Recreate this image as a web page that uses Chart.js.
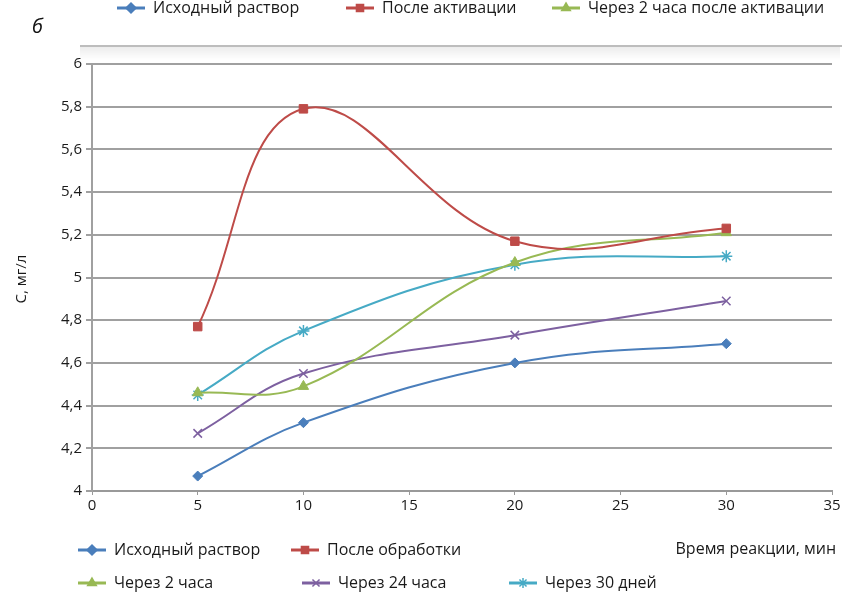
<!DOCTYPE html>
<html>
<head>
<meta charset="utf-8">
<script src="https://cdn.jsdelivr.net/npm/chart.js@4/dist/chart.umd.min.js"></script>
<style>
  html, body { margin: 0; padding: 0; background: #fff; }
  #wrap { position: relative; width: 853px; height: 597px; }
</style>
</head>
<body>
<div id="wrap"><canvas id="chart" width="853" height="597"></canvas></div>
<script>
// data
const times = [5, 10, 20, 30];
const ishodny = [4.07, 4.32, 4.60, 4.69];
const posleObrabotki = [4.77, 5.79, 5.17, 5.23];
const cherez2 = [4.46, 4.49, 5.07, 5.21];
const cherez24 = [4.27, 4.55, 4.73, 4.89];
const cherez30 = [4.45, 4.75, 5.06, 5.10];

const seriesNames = ['Исходный раствор', 'После обработки', 'Через 2 часа', 'Через 24 часа', 'Через 30 дней'];
const topLegendNames = ['Исходный раствор', 'После активации', 'Через 2 часа после активации'];
const xTitle = 'Время реакции, мин';
const yTitle = 'С, мг/л';

const colors = ['#4a7ebb', '#be4b48', '#98b954', '#7d60a0', '#46aac5'];
const markers = ['rectRot', 'rect', 'triangle', 'crossRot', 'star'];
const markerSize = [5, 6, 6, 6, 6];

const FONT = '"Open Sans", "Noto Sans", sans-serif';

const toPoints = arr => arr.map((v, i) => ({ x: times[i], y: v }));
const allSeries = [ishodny, posleObrabotki, cherez2, cherez24, cherez30];

const datasets = allSeries.map((arr, i) => ({
  label: seriesNames[i],
  data: toPoints(arr),
  borderColor: colors[i],
  backgroundColor: colors[i],
  borderWidth: 2,
  tension: 0.4,
  pointStyle: markers[i],
  pointRadius: markerSize[i],
  pointBorderWidth: markers[i] === 'crossRot' || markers[i] === 'star' ? 1.5 : 1,
  pointBorderColor: colors[i],
  pointBackgroundColor: colors[i]
}));

function legendItem(ctx, x, y, idx, text) {
  ctx.save();
  ctx.strokeStyle = colors[idx];
  ctx.fillStyle = colors[idx];
  ctx.lineWidth = 3;
  ctx.beginPath();
  ctx.moveTo(x - 14, y);
  ctx.lineTo(x + 14, y);
  ctx.stroke();
  ctx.lineWidth = 1.5;
  Chart.helpers.drawPoint(ctx, { pointStyle: markers[idx], radius: 5, rotation: 0, borderWidth: 1.5 }, x, y);
  ctx.fillStyle = '#1a1a1a';
  ctx.font = '16px ' + FONT;
  ctx.textBaseline = 'middle';
  ctx.textAlign = 'left';
  ctx.fillText(text, x + 22, y);
  ctx.restore();
}

const decorations = {
  id: 'decorations',
  afterDraw(chart) {
    const ctx = chart.ctx;
    // top legend (cut off at the top edge)
    legendItem(ctx, 131, 8, 0, topLegendNames[0]);
    legendItem(ctx, 360, 8, 1, topLegendNames[1]);
    legendItem(ctx, 566, 8, 2, topLegendNames[2]);

    // panel letter
    ctx.save();
    ctx.fillStyle = '#111';
    ctx.font = 'italic 20px ' + FONT;
    ctx.textBaseline = 'middle';
    ctx.fillText('б', 32, 27);

    // separator line with soft shadow
    const g = ctx.createLinearGradient(0, 46, 0, 60);
    g.addColorStop(0, 'rgba(0,0,0,0.08)');
    g.addColorStop(1, 'rgba(0,0,0,0)');
    ctx.fillStyle = g;
    ctx.fillRect(80, 46, 760, 14);
    ctx.strokeStyle = '#bdbdbd';
    ctx.lineWidth = 2;
    ctx.beginPath();
    ctx.moveTo(80, 46);
    ctx.lineTo(842, 46);
    ctx.stroke();

    // y axis title
    ctx.fillStyle = '#1a1a1a';
    ctx.font = '15px ' + FONT;
    ctx.translate(22, 279);
    ctx.rotate(-Math.PI / 2);
    ctx.textAlign = 'center';
    ctx.textBaseline = 'middle';
    ctx.fillText(yTitle, 0, 0);
    ctx.restore();

    // x axis title
    ctx.save();
    ctx.fillStyle = '#1a1a1a';
    ctx.font = '16px ' + FONT;
    ctx.textAlign = 'right';
    ctx.textBaseline = 'middle';
    ctx.fillText(xTitle, 836, 549);
    ctx.restore();

    // bottom legend
    legendItem(ctx, 92, 550, 0, seriesNames[0]);
    legendItem(ctx, 305, 550, 1, seriesNames[1]);
    legendItem(ctx, 92, 583, 2, seriesNames[2]);
    legendItem(ctx, 316, 583, 3, seriesNames[3]);
    legendItem(ctx, 523, 583, 4, seriesNames[4]);
  }
};

new Chart(document.getElementById('chart'), {
  type: 'line',
  data: { datasets },
  options: {
    responsive: false,
    animation: false,
    layout: { padding: { top: 64, right: 21, left: 0, bottom: 0 } },
    plugins: { legend: { display: false }, tooltip: { enabled: false } },
    scales: {
      x: {
        type: 'linear',
        min: 0,
        max: 35,
        ticks: { stepSize: 5, color: '#1a1a1a', font: { family: FONT, size: 15 }, padding: 2 },
        grid: { display: true, drawOnChartArea: false, drawTicks: true, tickLength: 4, color: '#999' },
        border: { display: true, color: '#999', width: 2 },
        afterFit(scale) { scale.height = 106; }
      },
      y: {
        min: 4,
        max: 6,
        ticks: {
          stepSize: 0.2,
          color: '#1a1a1a',
          font: { family: FONT, size: 15 },
          padding: 4,
          callback: v => String(Number(v.toFixed(1))).replace('.', ',')
        },
        grid: { color: '#a0a0a0', lineWidth: 2, tickLength: 6 },
        border: { display: true, color: '#a0a0a0', width: 2 },
        afterFit(scale) { scale.width = 92; }
      }
    }
  },
  plugins: [decorations]
});
</script>
</body>
</html>
